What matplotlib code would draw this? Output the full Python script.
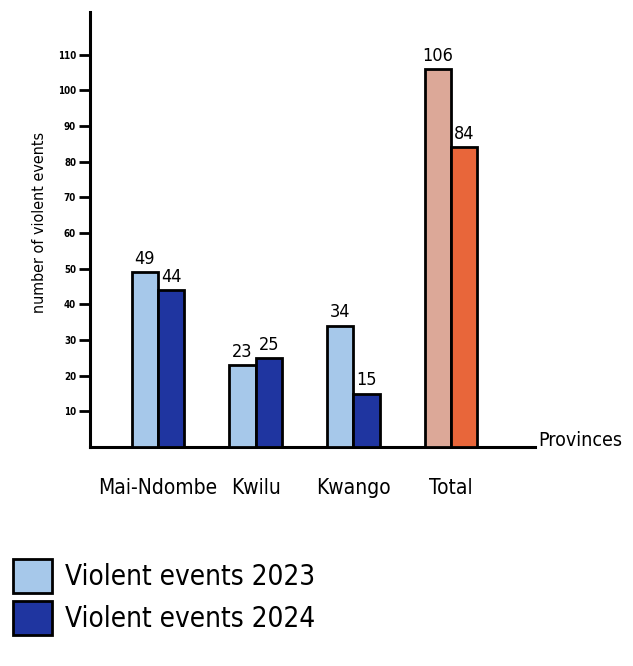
import matplotlib.pyplot as plt
import numpy as np

plt.rcParams['font.family'] = ['DejaVu Sans']
plt.rcParams['font.stretch'] = 'condensed'

provinces = ['Mai-Ndombe', 'Kwilu', 'Kwango', 'Total']
events_2023 = [49, 23, 34, 106]
events_2024 = [44, 25, 15, 84]
colors_2023 = ['#A6C8EA', '#A6C8EA', '#A6C8EA', '#DCA898']
colors_2024 = ['#1F35A0', '#1F35A0', '#1F35A0', '#E8663A']
yticks = [10, 20, 30, 40, 50, 60, 70, 80, 90, 100, 110]

fig = plt.figure(figsize=(6.33, 6.66), dpi=100)
ax = fig.add_axes([90 / 633, 219 / 666, 445 / 633, 435 / 666])

x = np.arange(len(provinces))
w = 0.27
b1 = ax.bar(x - w / 2, events_2023, w, color=colors_2023, edgecolor='black',
            linewidth=2, label='Violent events 2023', zorder=3)
b2 = ax.bar(x + w / 2, events_2024, w, color=colors_2024, edgecolor='black',
            linewidth=2, label='Violent events 2024', zorder=3)

for bars, vals in ((b1, events_2023), (b2, events_2024)):
    for r, v in zip(bars, vals):
        ax.text(r.get_x() + r.get_width() / 2, v + 1.2, str(v),
                ha='center', va='bottom', fontsize=13)

ax.set_xlim(-0.696, 3.86)
ax.set_ylim(0, 122)
ax.set_yticks(yticks)
ax.set_yticklabels([str(t) for t in yticks], fontsize=7, fontweight='bold')
ax.tick_params(axis='y', length=8, width=2, pad=2)
ax.set_xticks(x)
ax.set_xticklabels(provinces, fontsize=15)
ax.tick_params(axis='x', length=0, pad=22)

for s in ('top', 'right'):
    ax.spines[s].set_visible(False)
ax.spines['left'].set_linewidth(2.2)
ax.spines['bottom'].set_linewidth(2.2)

fig.text(538 / 633, 1 - 440 / 666, 'Provinces', fontsize=14, va='center', ha='left')
fig.text(40 / 633, 1 - 222 / 666, 'number of violent events', fontsize=11.5,
         rotation=90, ha='center', va='center')

fig.legend(handles=[b1[0], b2[0]], labels=['Violent events 2023', 'Violent events 2024'],
           loc='upper left', bbox_to_anchor=(-0.01, 0.19), frameon=False,
           fontsize=20, handlelength=1.4, handleheight=1.5, handletextpad=0.45,
           labelspacing=0.3, borderaxespad=0.3)

fig.savefig('out.png', dpi=100)
